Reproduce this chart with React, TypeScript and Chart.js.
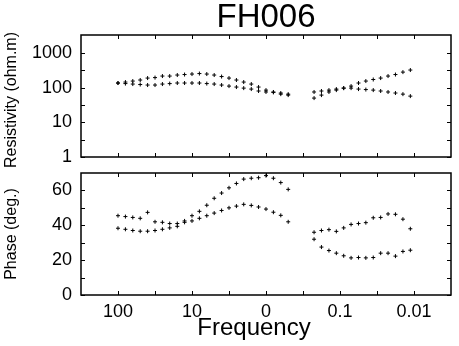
import React, { useEffect, useRef } from 'react';
import { Chart, registerables } from 'chart.js';

Chart.register(...registerables);

const FONT = "'Liberation Sans', Arial, Helvetica, sans-serif";

const titleText = 'FH006';
const xTitle = 'Frequency';
const rhoTitle = 'Resistivity (ohm.m)';
const phaseTitle = 'Phase (deg.)';

// Frequencies (Hz)
const freqLeft = [100, 79.4, 63.1, 50.1, 39.8, 31.6, 25.1, 20.0, 15.8, 12.6, 10.0, 7.94, 6.31, 5.01, 3.98, 3.16, 2.51, 2.0, 1.58, 1.26, 1.0, 0.794, 0.631, 0.501];
const freqRight = [0.224, 0.178, 0.141, 0.112, 0.0891, 0.0708, 0.0562, 0.0447, 0.0355, 0.0282, 0.0224, 0.0178, 0.0141, 0.0112];

// Apparent resistivity (ohm.m)
const rhoLeftA = [136, 145, 155, 166, 189, 195, 216, 216, 231, 239, 247, 255, 247, 231, 209, 189, 166, 145, 127, 104, 85, 75, 70, 65];
const rhoLeftB = [136, 131, 127, 123, 119, 119, 127, 131, 136, 136, 136, 136, 131, 127, 119, 111, 104, 97, 91, 80, 75, 73, 65, 61];
const rhoRightA = [50, 61, 75, 85, 97, 111, 136, 155, 172, 189, 216, 239, 281, 322];
const rhoRightB = [75, 80, 85, 91, 97, 97, 91, 88, 85, 80, 75, 70, 65, 57];

// Phase (deg.)
const phaseLeftA = [45.5, 45, 44.5, 44, 47.4, 42, 41.7, 41, 41, 42.5, 45.5, 48, 51.5, 55.5, 58.5, 61.5, 64, 66.5, 67, 67.3, 68.5, 67, 64.5, 60.6];
const phaseLeftB = [38.3, 37.7, 37, 36.6, 36.6, 37, 37.7, 38.5, 39.4, 41.7, 42.5, 44, 45.5, 47, 48.5, 50, 51, 52, 51.4, 50.5, 49.3, 47.5, 45.7, 42];
const phaseRightA = [36, 37, 37.5, 36.5, 38.5, 40.5, 41, 41.5, 44.3, 44.5, 46.5, 46.3, 43.5, 38];
const phaseRightB = [32, 27.5, 25.5, 24, 22.5, 21.3, 21.5, 21.3, 21.5, 24, 24, 22.3, 25, 25.7];

// Axes
const xMin = 0.00316;
const xMax = 316.2;
const xTickValues = [100, 10, 1, 0.1, 0.01];
const xTickLabels = ['100', '10', '0', '0.1', '0.01'];
const xMinorTicks = [31.6, 3.16, 0.316, 0.0316];

const rhoMin = 1;
const rhoMax = 3300;
const rhoTickValues = [1, 10, 100, 1000];
const rhoTickLabels = ['1', '10', '100', '1000'];
const rhoMinorTicks = [3.16, 31.6, 316];

const phaseMin = 0;
const phaseMax = 70;
const phaseTickValues = [0, 20, 40, 60];
const phaseTickLabels = ['0', '20', '40', '60'];
const phaseMinorTicks = [10, 30, 50];

function pts(xs: number[], ys: number[]) {
  return xs.map((x, i) => ({ x, y: ys[i] }));
}

function makeFrame(xt: number[], yt: number[], yLabel: string, yLabelShift: number, xLabel?: string) {
  return {
    id: 'frame',
    afterDatasetsDraw(chart: any) {
      const { ctx, chartArea } = chart;
      const { left, right, top, bottom } = chartArea;
      const xs = chart.scales.x;
      const ys = chart.scales.y;
      const L = 4;
      ctx.save();
      ctx.strokeStyle = '#000';
      ctx.lineWidth = 1;
      ctx.beginPath();
      xt.forEach((v) => {
        const p = Math.round(xs.getPixelForValue(v)) + 0.5;
        ctx.moveTo(p, top);
        ctx.lineTo(p, top + L);
        ctx.moveTo(p, bottom);
        ctx.lineTo(p, bottom - L);
      });
      yt.forEach((v) => {
        const p = Math.round(ys.getPixelForValue(v)) + 0.5;
        ctx.moveTo(left, p);
        ctx.lineTo(left + L, p);
        ctx.moveTo(right, p);
        ctx.lineTo(right - L, p);
      });
      ctx.stroke();
      ctx.lineWidth = 1.5;
      ctx.strokeRect(left, top, right - left, bottom - top);

      ctx.fillStyle = '#000';
      // y-axis title
      ctx.save();
      ctx.font = `16px ${FONT}`;
      ctx.textAlign = 'center';
      ctx.textBaseline = 'middle';
      ctx.translate(12, (top + bottom) / 2 + yLabelShift);
      ctx.rotate(-Math.PI / 2);
      ctx.fillText(yLabel, 0, 0);
      ctx.restore();

      if (xLabel) {
        ctx.font = `24px ${FONT}`;
        ctx.textAlign = 'center';
        ctx.textBaseline = 'alphabetic';
        ctx.fillText(xLabel, (left + right) / 2 - 12, bottom + 40);
      }
      ctx.restore();
    },
  };
}

const pointStyle = {
  showLine: false,
  pointStyle: 'cross' as const,
  pointRadius: 2,
  pointBorderWidth: 1,
  borderColor: '#000',
  backgroundColor: '#000',
};

function noPad(s: any) {
  s.paddingTop = 0;
  s.paddingBottom = 0;
  s.paddingLeft = 0;
  s.paddingRight = 0;
}

export default function App() {
  const topRef = useRef<HTMLCanvasElement | null>(null);
  const botRef = useRef<HTMLCanvasElement | null>(null);

  useEffect(() => {
    Chart.defaults.font.family = FONT;
    Chart.defaults.color = '#000';

    const top = new Chart(topRef.current as HTMLCanvasElement, {
      type: 'scatter',
      data: {
        datasets: [
          { data: pts(freqLeft, rhoLeftA), ...pointStyle },
          { data: pts(freqLeft, rhoLeftB), ...pointStyle },
          { data: pts(freqRight, rhoRightA), ...pointStyle },
          { data: pts(freqRight, rhoRightB), ...pointStyle },
        ],
      },
      options: {
        animation: false,
        responsive: false,
        layout: { padding: { left: 0, right: 8, top: 0, bottom: 23 } },
        plugins: {
          legend: { display: false },
          tooltip: { enabled: false },
          title: {
            display: true,
            text: titleText,
            fullSize: false,
            color: '#000',
            font: { family: FONT, size: 33, weight: 'normal', lineHeight: 1 },
            padding: { top: 1, bottom: 1 },
          },
        },
        scales: {
          x: { type: 'logarithmic', reverse: true, min: xMin, max: xMax, display: false },
          y: {
            type: 'logarithmic',
            min: rhoMin,
            max: rhoMax,
            afterBuildTicks: (s: any) => {
              s.ticks = rhoTickValues.map((v) => ({ value: v }));
            },
            afterFit: (s: any) => {
              s.width = 81;
              noPad(s);
            },
            grid: { display: false, drawTicks: false },
            border: { display: false },
            ticks: {
              padding: 9,
              color: '#000',
              autoSkip: false,
              font: { family: FONT, size: 18 },
              callback: (v: any) => {
                const i = rhoTickValues.indexOf(Number(v));
                return i >= 0 ? rhoTickLabels[i] : '';
              },
            },
            title: { display: false },
          },
        },
      } as any,
      plugins: [makeFrame([...xTickValues, ...xMinorTicks], [...rhoTickValues, ...rhoMinorTicks], rhoTitle, 4)],
    });

    const bot = new Chart(botRef.current as HTMLCanvasElement, {
      type: 'scatter',
      data: {
        datasets: [
          { data: pts(freqLeft, phaseLeftA), ...pointStyle },
          { data: pts(freqLeft, phaseLeftB), ...pointStyle },
          { data: pts(freqRight, phaseRightA), ...pointStyle },
          { data: pts(freqRight, phaseRightB), ...pointStyle },
        ],
      },
      options: {
        animation: false,
        responsive: false,
        layout: { padding: { left: 0, right: 8, top: 13, bottom: 0 } },
        plugins: {
          legend: { display: false },
          tooltip: { enabled: false },
        },
        scales: {
          x: {
            type: 'logarithmic',
            reverse: true,
            min: xMin,
            max: xMax,
            afterBuildTicks: (s: any) => {
              s.ticks = xTickValues.map((v) => ({ value: v }));
            },
            afterFit: (s: any) => {
              s.height = 51;
              noPad(s);
            },
            grid: { display: false, drawTicks: false },
            border: { display: false },
            ticks: {
              padding: 6,
              color: '#000',
              autoSkip: false,
              maxRotation: 0,
              font: { family: FONT, size: 18 },
              callback: (v: any) => {
                const i = xTickValues.indexOf(Number(v));
                return i >= 0 ? xTickLabels[i] : '';
              },
            },
            title: { display: false },
          },
          y: {
            type: 'linear',
            min: phaseMin,
            max: phaseMax,
            afterBuildTicks: (s: any) => {
              s.ticks = phaseTickValues.map((v) => ({ value: v }));
            },
            afterFit: (s: any) => {
              s.width = 81;
              noPad(s);
            },
            grid: { display: false, drawTicks: false },
            border: { display: false },
            ticks: {
              padding: 9,
              color: '#000',
              autoSkip: false,
              font: { family: FONT, size: 18 },
              callback: (v: any) => {
                const i = phaseTickValues.indexOf(Number(v));
                return i >= 0 ? phaseTickLabels[i] : '';
              },
            },
            title: { display: false },
          },
        },
      } as any,
      plugins: [makeFrame([...xTickValues, ...xMinorTicks], [...phaseTickValues, ...phaseMinorTicks], phaseTitle, 0, xTitle)],
    });

    return () => {
      top.destroy();
      bot.destroy();
    };
  }, []);

  return (
    <div style={{ position: 'absolute', left: 0, top: 0, width: 459, height: 346, background: '#fff' }}>
      <canvas ref={topRef} width={459} height={180} style={{ position: 'absolute', left: 0, top: 0, width: 459, height: 180 }} />
      <canvas ref={botRef} width={459} height={186} style={{ position: 'absolute', left: 0, top: 160, width: 459, height: 186 }} />
    </div>
  );
}
